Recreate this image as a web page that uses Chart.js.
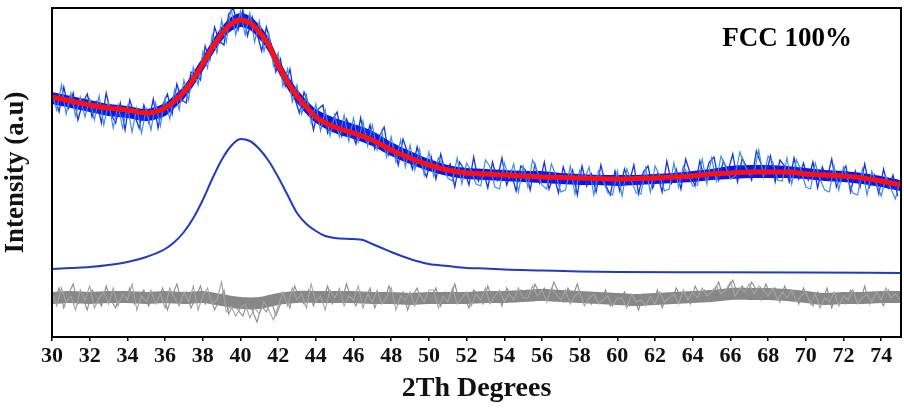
<!DOCTYPE html>
<html>
<head>
<meta charset="utf-8">
<script src="https://cdn.jsdelivr.net/npm/chart.js@4.4.1/dist/chart.umd.min.js"></script>
<style>
  html, body { margin: 0; padding: 0; background: #fff; }
  #wrap { width: 904px; height: 408px; }
</style>
</head>
<body>
<div id="wrap"><canvas id="xrdChart"></canvas></div>
<script>
// 2theta scan grid for the measured trace (two interleaved passes)
const twoThetaStart = 30;
const twoThetaStep = 0.25;
const twoThetaOffset = 0.125;

// measured intensity, grid 30, 30.25, ...
const observed = [
  244, 227, 252, 223, 244, 221, 240, 220, 238, 217, 241, 212, 235, 209, 232, 209, 231, 205, 229, 204, 228,
  207, 234, 211, 239, 218, 247, 227, 257, 237, 270, 252, 285, 269, 302, 284, 317, 295, 329, 302, 326,
  302, 324, 295, 316, 286, 304, 271, 284, 251, 268, 235, 252, 223, 242, 214, 233, 206, 227, 201, 222,
  200, 222, 196, 219, 195, 216, 191, 212, 187, 206, 180, 200, 175, 197, 170, 192, 167, 188, 162, 185,
  161, 179, 172, 159, 156, 179, 153, 174, 166, 153, 151, 177, 170, 150, 148, 174, 159, 173, 145, 171,
  150, 177, 166, 152, 148, 173, 161, 145, 147, 171, 143, 167, 158, 170, 142, 166, 156, 144, 142, 166,
  141, 168, 156, 144, 143, 169, 145, 171, 161, 146, 148, 174, 150, 171, 163, 151, 152, 178, 153, 179,
  156, 181, 170, 158, 161, 185, 172, 162, 164, 187, 160, 181, 175, 157, 156, 179, 153, 177, 167, 150,
  148, 174, 158, 147, 145, 171, 147, 170, 156, 144, 142, 168, 142, 166, 153, 141, 160, 149, 138, 156
];
// measured intensity, grid 30.125, 30.375, ...
const observedB = [
  242, 225, 250, 229, 244, 217, 234, 243, 220, 235, 214, 244, 223, 214, 234, 207, 237, 222, 209, 232,
  215, 238, 209, 232, 243, 223, 253, 237, 234, 265, 264, 257, 291, 277, 310, 296, 292, 323, 329, 307,
  327, 301, 320, 304, 286, 310, 293, 265, 278, 251, 268, 239, 224, 245, 232, 207, 228, 232, 204, 217,
  225, 201, 218, 207, 193, 219, 196, 212, 188, 201, 210, 182, 192, 172, 198, 184, 168, 190, 171, 160,
  180, 158, 183, 164, 173, 150, 175, 167, 152, 180, 156, 167, 149, 175, 157, 179, 152, 164, 146, 171,
  167, 147, 173, 154, 175, 148, 162, 144, 170, 155, 167, 142, 171, 151, 163, 145, 172, 152, 142, 166,
  146, 168, 154, 172, 143, 165, 171, 149, 163, 145, 176, 154, 168, 148, 178, 163, 151, 176, 158, 175,
  180, 157, 176, 166, 183, 155, 179, 169, 157, 186, 173, 161, 181, 155, 177, 171, 155, 179, 158, 174,
  157, 175, 149, 170, 158, 178, 150, 163, 171, 145, 166, 150, 173, 150, 162, 143, 168, 149, 162, 141
];

// difference (observed - calculated), offset below
const difference = [
  45, 31, 49, 35, 41, 27, 47, 37, 51, 29, 39, 45, 33, 49, 31, 43, 37, 53, 27, 41, 35,
  47, 33, 43, 29, 49, 39, 31, 45, 35, 51, 27, 41, 49, 33, 37, 55, 25, 31, 21, 29,
  33, 19, 29, 23, 35, 27, 17, 31, 45, 31, 49, 37, 43, 29, 53, 35, 41, 27, 47, 39,
  49, 31, 41, 37, 51, 29, 43, 35, 47, 33, 39, 49, 27, 41, 37, 45, 31, 43, 35, 47,
  47, 29, 41, 35, 49, 33, 39, 45, 31, 43, 37, 49, 33, 41, 47, 35, 43, 37, 49, 39,
  39, 51, 41, 47, 35, 49, 43, 37, 47, 33, 41, 45, 31, 39, 43, 33, 37, 41, 31, 39,
  39, 29, 43, 35, 37, 31, 41, 33, 45, 35, 39, 43, 33, 47, 37, 45, 39, 49, 41, 45,
  51, 43, 47, 55, 41, 49, 45, 53, 43, 51, 47, 41, 49, 37, 45, 39, 47, 35, 41, 45,
  33, 43, 29, 39, 35, 45, 31, 41, 37, 47, 33, 39, 43, 35, 45, 37, 49, 39, 43, 37
];
const differenceB = [
  35, 49, 29, 43, 53, 33, 39, 27, 47, 41, 31, 51, 37, 29, 45, 35, 49, 33, 41, 47,
  31, 43, 37, 49, 27, 41, 53, 35, 45, 29, 39, 51, 33, 43, 27, 37, 47, 23, 33, 27,
  21, 35, 27, 15, 31, 25, 37, 21, 33, 43, 29, 51, 39, 33, 47, 31, 45, 37, 51, 33,
  43, 35, 53, 39, 31, 45, 37, 49, 29, 41, 35, 51, 39, 33, 45, 27, 41, 49, 35, 43,
  37, 49, 31, 45, 39, 53, 35, 41, 29, 47, 43, 33, 51, 37, 45, 31, 49, 41, 35, 47,
  45, 37, 53, 43, 49, 39, 55, 45, 35, 49, 41, 53, 37, 45, 33, 43, 35, 47, 31, 37,
  35, 45, 31, 39, 27, 43, 37, 33, 47, 29, 41, 35, 49, 39, 43, 33, 51, 41, 47, 37,
  45, 55, 39, 49, 57, 43, 51, 41, 55, 47, 37, 53, 43, 49, 35, 51, 41, 45, 33, 49,
  39, 31, 45, 35, 49, 29, 43, 37, 33, 47, 41, 35, 51, 33, 43, 39, 31, 47, 37, 45
];

// refined fit (red) through the measured trace
const fitX = [30, 31, 32, 33, 34, 35, 36, 36.5, 37, 37.5, 38, 38.5, 39, 39.5, 40, 40.5, 41, 41.5, 42, 42.5, 43, 43.5, 44,
  45, 46, 47, 48, 49, 50, 51, 52, 53, 54, 55, 56, 57, 58, 59, 60, 61, 62, 63, 64, 65, 66, 67, 68, 69, 70, 71, 72, 73, 74, 75];
const fitY = [240, 236, 232, 229, 227, 224, 229, 236, 245, 258, 273, 289, 303, 313, 317, 314, 305, 292, 272, 255, 241, 230, 220,
  210, 204, 197, 187, 179, 172, 167, 164, 163, 162, 161, 160, 159.5, 159, 158.5, 158, 158.5, 159, 160, 161, 163, 164, 165, 165, 165, 163, 162, 161, 159, 156, 152];

// dense core of the measured trace (upper / lower edge), on the fitX grid
const obsUpper = [245, 241, 237, 233, 231, 228, 234, 242, 251, 265, 280, 296, 310, 320, 324, 321, 312, 299, 279, 262, 248, 237, 228,
  219, 213, 206, 195, 186, 178, 172, 169, 168, 167, 166, 166, 164, 163, 162, 162, 162, 163, 164, 166, 168, 171, 172, 172, 171, 169, 167, 166, 164, 161, 157];
const obsLower = [233, 229, 225, 221, 219, 216, 221, 229, 238, 251, 266, 282, 296, 306, 310, 307, 298, 285, 265, 248, 234, 223, 214,
  204, 198, 191, 181, 173, 166, 161, 158, 157, 156, 155, 154, 153, 152, 152, 151, 152, 153, 154, 155, 157, 158, 159, 159, 159, 158, 156, 155, 153, 150, 146];

// dense core of the difference trace, 1 degree grid
const diffX = [30, 31, 32, 33, 34, 35, 36, 37, 38, 39, 40, 41, 42, 43, 44, 45, 46, 47, 48, 49, 50, 51, 52,
  53, 54, 55, 56, 57, 58, 59, 60, 61, 62, 63, 64, 65, 66, 67, 68, 69, 70, 71, 72, 73, 74, 75];
const diffUpper = [45, 46, 45, 46, 46, 45, 46, 45, 46, 43, 40, 40, 44, 46, 46, 46, 46, 45, 45, 44, 45, 45, 45,
  46, 46, 47, 48, 47, 46, 45, 44, 43, 44, 45, 46, 47, 49, 49, 49, 48, 46, 44, 45, 45, 46, 46];
const diffLower = [33, 34, 33, 34, 34, 33, 34, 33, 34, 31, 28, 28, 32, 34, 34, 34, 34, 33, 33, 32, 33, 33, 33,
  34, 34, 35, 36, 35, 34, 33, 32, 31, 32, 33, 34, 35, 37, 37, 37, 36, 34, 32, 33, 33, 34, 34];

// calculated FCC profile (blue, offset)
const calcX = [30, 31, 32, 33, 34, 35, 36, 36.5, 37, 37.5, 38, 38.5, 39, 39.5, 40, 40.5, 41, 41.5, 42, 42.5, 43, 43.5, 44, 44.5,
  45, 46, 46.5, 47, 47.5, 48, 49, 50, 51, 52, 53, 54, 56, 58, 60, 65, 70, 75];
const calcY = [68, 69, 70, 72, 75, 80, 88, 95, 105, 119, 137, 158, 177, 191, 198, 196, 188, 176, 160, 142, 124, 113, 106, 101,
  99, 98, 97, 93, 89, 85, 78, 73, 71, 69, 68.5, 67.5, 66.5, 65.5, 65, 64.8, 64.5, 64];

const xTickValues = [30, 32, 34, 36, 38, 40, 42, 44, 46, 48, 50, 52, 54, 56, 58, 60, 62, 64, 66, 68, 70, 72, 74];
const phaseLabel = 'FCC 100%';

const serif = "'Liberation Serif', 'Times New Roman', serif";

const toPoints = (xs, ys) => ys.map((y, i) => ({ x: xs[i], y }));
const scanPoints = (arr, off) => arr.map((y, i) => ({ x: twoThetaStart + off + i * twoThetaStep, y }));

// box around plot + phase label
const framePlugin = {
  id: 'frame',
  afterDraw(chart) {
    const { ctx, chartArea: a } = chart;
    ctx.save();
    ctx.strokeStyle = '#000';
    ctx.lineWidth = 2;
    ctx.strokeRect(a.left, a.top, a.right - a.left, a.bottom - a.top);
    ctx.fillStyle = '#000';
    ctx.font = 'bold 27px ' + serif;
    ctx.textAlign = 'center';
    ctx.textBaseline = 'middle';
    ctx.fillText(phaseLabel, a.left + (a.right - a.left) * 0.866, a.top + 31);
    ctx.restore();
  }
};

const band = (label, data, color, fill, order) => ({
  label, data, borderWidth: 0, borderColor: color, backgroundColor: color,
  pointRadius: 0, tension: 0.3, fill, order
});
const trace = (label, data, color, width, order) => ({
  label, data, borderColor: color, borderWidth: width, pointRadius: 0, tension: 0, order
});

new Chart(document.getElementById('xrdChart'), {
  type: 'line',
  data: {
    datasets: [
      band('Obs upper', toPoints(fitX, obsUpper), '#0b12f2', false, 4),
      band('Obs lower', toPoints(fitX, obsLower), '#0b12f2', '-1', 4),
      trace('Observed', scanPoints(observed, 0), '#3d8ee0', 1.2, 2),
      trace('Observed B', scanPoints(observedB, twoThetaOffset), '#1430ee', 1.3, 2),
      {
        label: 'Fit',
        data: toPoints(fitX, fitY),
        borderColor: '#ff1010',
        borderWidth: 5,
        pointRadius: 0,
        cubicInterpolationMode: 'monotone',
        order: 0
      },
      {
        label: 'Calculated',
        data: toPoints(calcX, calcY),
        borderColor: '#1f3cc0',
        borderWidth: 2,
        pointRadius: 0,
        cubicInterpolationMode: 'monotone',
        order: 3
      },
      band('Diff upper', toPoints(diffX, diffUpper), '#878787', false, 6),
      band('Diff lower', toPoints(diffX, diffLower), '#878787', '-1', 6),
      trace('Difference', scanPoints(difference, 0), '#a4a4a4', 1.1, 5),
      trace('Difference B', scanPoints(differenceB, twoThetaOffset), '#8c8c8c', 1.1, 5)
    ]
  },
  options: {
    responsive: true,
    maintainAspectRatio: false,
    animation: false,
    layout: { padding: { top: 8, right: 3, left: 0, bottom: 0 } },
    plugins: { legend: { display: false }, tooltip: { enabled: false } },
    scales: {
      x: {
        type: 'linear',
        min: 30,
        max: 75.05,
        afterBuildTicks: s => { s.ticks = xTickValues.map(v => ({ value: v })); },
        afterFit: s => { s.height = 71; },
        grid: { display: true, drawOnChartArea: false, tickLength: 4, color: '#000', lineWidth: 1.5 },
        border: { display: false },
        ticks: {
          color: '#111',
          padding: 2,
          maxRotation: 0,
          autoSkip: false,
          font: { family: serif, size: 22, weight: 'bold' }
        },
        title: {
          display: true,
          text: '2Th Degrees',
          color: '#111',
          padding: { top: 3, bottom: 2 },
          font: { family: serif, size: 28, weight: 'bold' }
        }
      },
      y: {
        min: 0,
        max: 329,
        afterFit: s => { s.width = 52; },
        grid: { display: false },
        border: { display: false },
        ticks: { display: false },
        title: {
          display: true,
          text: 'Intensity (a.u)',
          color: '#111',
          padding: { top: 0, bottom: 6 },
          font: { family: serif, size: 27, weight: 'bold' }
        }
      }
    }
  },
  plugins: [framePlugin]
});
</script>
</body>
</html>
